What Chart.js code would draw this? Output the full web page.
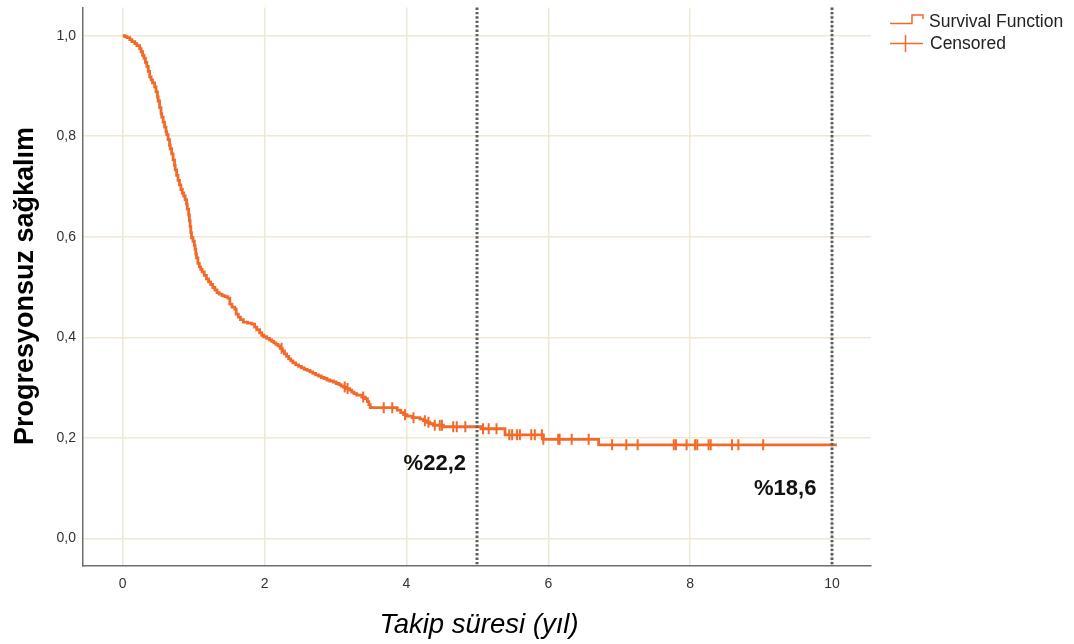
<!DOCTYPE html>
<html>
<head>
<meta charset="utf-8">
<script src="https://cdn.jsdelivr.net/npm/chart.js@4.4.1/dist/chart.umd.min.js"></script>
<style>
html,body{margin:0;padding:0;background:#fff;}
#wrap{width:1074px;height:644px;position:relative;}
</style>
</head>
<body>
<div id="wrap"><canvas id="c" width="1074" height="644"></canvas></div>
<script>
// ---- data ----
const survTimes = [0,0.03,0.06,0.10,0.13,0.17,0.20,0.24,0.26,0.28,0.30,0.32,0.34,0.36,0.38,0.40,0.42,0.45,0.47,0.49,0.50,0.52,0.54,0.55,0.57,0.59,0.61,0.62,0.64,0.66,0.67,0.69,0.71,0.73,0.74,0.76,0.78,0.80,0.82,0.84,0.86,0.88,0.90,0.91,0.93,0.94,0.95,0.96,0.97,0.99,1.01,1.02,1.03,1.04,1.06,1.08,1.10,1.12,1.15,1.18,1.21,1.24,1.27,1.30,1.33,1.36,1.40,1.44,1.48,1.51,1.54,1.58,1.60,1.63,1.66,1.70,1.76,1.82,1.86,1.89,1.93,1.96,1.99,2.03,2.07,2.10,2.13,2.16,2.19,2.22,2.25,2.28,2.31,2.34,2.37,2.40,2.44,2.48,2.52,2.56,2.60,2.64,2.68,2.72,2.76,2.80,2.84,2.88,2.92,2.97,3.01,3.05,3.08,3.11,3.15,3.20,3.23,3.26,3.30,3.37,3.42,3.45,3.47,3.49,3.87,3.92,3.96,4.01,4.08,4.19,4.24,4.28,4.33,4.38,4.52,5.05,5.39,5.93,6.71,10.07];
const survValues = [1.000,0.998,0.996,0.992,0.988,0.984,0.980,0.974,0.968,0.961,0.955,0.947,0.939,0.929,0.918,0.912,0.906,0.898,0.888,0.878,0.870,0.857,0.845,0.838,0.828,0.818,0.809,0.803,0.793,0.782,0.775,0.765,0.753,0.742,0.733,0.722,0.712,0.703,0.694,0.687,0.681,0.674,0.665,0.655,0.643,0.632,0.620,0.608,0.598,0.591,0.583,0.575,0.566,0.558,0.547,0.540,0.535,0.530,0.523,0.516,0.510,0.505,0.499,0.494,0.489,0.486,0.483,0.481,0.478,0.466,0.460,0.456,0.446,0.440,0.435,0.430,0.428,0.426,0.420,0.415,0.409,0.404,0.401,0.398,0.395,0.392,0.389,0.386,0.383,0.378,0.373,0.367,0.362,0.357,0.353,0.349,0.345,0.342,0.339,0.336,0.334,0.331,0.328,0.325,0.323,0.320,0.318,0.315,0.313,0.311,0.308,0.306,0.303,0.301,0.298,0.295,0.291,0.288,0.285,0.281,0.278,0.272,0.266,0.260,0.255,0.250,0.246,0.243,0.240,0.237,0.234,0.231,0.228,0.225,0.222,0.218,0.206,0.197,0.186,0.186];
const censoredTimes = [2.24,3.13,3.17,3.39,3.68,3.80,3.98,4.10,4.26,4.31,4.40,4.47,4.50,4.66,4.71,4.83,5.08,5.16,5.27,5.45,5.49,5.56,5.60,5.76,5.81,5.91,5.93,6.14,6.16,6.33,6.57,6.90,7.10,7.26,7.77,7.80,7.95,8.07,8.10,8.26,8.29,8.59,8.68,9.03];
const xTicks = [0,2,4,6,8,10];
const yTicks = [0,0.2,0.4,0.6,0.8,1.0];
const refLines = [5,10];
const refLabels = [{x:4.4,y:0.149,text:'%22,2'},{x:9.34,y:0.099,text:'%18,6'}];
const seriesNames = ['Survival Function','Censored'];
const xTitle = 'Takip süresi (yıl)';
const yTitle = 'Progresyonsuz sağkalım';

// step-function lookup of survival at time t
function survAt(t){
  let v = survValues[0];
  for (let i=0;i<survTimes.length;i++){ if (survTimes[i] <= t) v = survValues[i]; else break; }
  return v;
}

const ORANGE = '#f26a2a';
const FONT = "'Liberation Sans', Arial, sans-serif";

const overlay = {
  id:'overlay',
  afterDatasetsDraw(chart){
    const ctx = chart.ctx, xs = chart.scales.x, ys = chart.scales.y, a = chart.chartArea;
    ctx.save();
    ctx.strokeStyle = '#5c6262';
    ctx.lineWidth = 3;
    ctx.setLineDash([2.4,2]);
    refLines.forEach(v=>{
      const px = Math.round(xs.getPixelForValue(v));
      ctx.beginPath(); ctx.moveTo(px, a.top); ctx.lineTo(px, a.bottom); ctx.stroke();
    });
    ctx.setLineDash([]);
    ctx.fillStyle = '#111';
    ctx.font = 'bold 22px ' + FONT;
    ctx.textAlign = 'center'; ctx.textBaseline = 'middle';
    refLabels.forEach(l=>{
      ctx.fillText(l.text, xs.getPixelForValue(l.x), ys.getPixelForValue(l.y));
    });
    ctx.restore();
  },
  afterDraw(chart){
    const ctx = chart.ctx;
    ctx.save();
    // axis titles
    ctx.fillStyle = '#000';
    ctx.font = 'italic 27.5px ' + FONT;
    ctx.textAlign = 'center'; ctx.textBaseline = 'middle';
    ctx.fillText(xTitle, 479, 625);
    ctx.save();
    ctx.translate(26, 286);
    ctx.rotate(-Math.PI/2);
    ctx.font = 'bold 27px ' + FONT;
    ctx.fillText(yTitle, 0, 0);
    ctx.restore();
    // legend
    ctx.strokeStyle = ORANGE;
    ctx.lineWidth = 1.5;
    ctx.beginPath();
    ctx.moveTo(890, 23.5); ctx.lineTo(912, 23.5); ctx.lineTo(912, 15); ctx.lineTo(923, 15); ctx.lineTo(923, 19);
    ctx.stroke();
    ctx.beginPath();
    ctx.moveTo(890, 43.5); ctx.lineTo(923, 43.5);
    ctx.moveTo(905.5, 35); ctx.lineTo(905.5, 52);
    ctx.stroke();
    ctx.fillStyle = '#222';
    ctx.font = '17.5px ' + FONT;
    ctx.textAlign = 'left';
    ctx.fillText(seriesNames[0], 929, 22);
    ctx.fillText(seriesNames[1], 930, 44);
    ctx.restore();
  }
};

new Chart(document.getElementById('c'), {
  type:'scatter',
  data:{
    datasets:[
      {
        label: seriesNames[0],
        data: survTimes.map((t,i)=>({x:t,y:survValues[i]})),
        showLine:true, stepped:true,
        borderColor:ORANGE, borderWidth:2.8,
        pointRadius:0, pointHoverRadius:0, order:2
      },
      {
        label: seriesNames[1],
        data: censoredTimes.map(t=>({x:t,y:survAt(t)})),
        showLine:false,
        pointStyle:'line', rotation:90,
        pointRadius:5.5, borderColor:ORANGE, borderWidth:2,
        backgroundColor:ORANGE, order:1
      }
    ]
  },
  options:{
    responsive:false, animation:false,
    layout:{padding:{top:7,right:203,left:0,bottom:0}},
    plugins:{legend:{display:false}, tooltip:{enabled:false}},
    scales:{
      x:{
        type:'linear', min:-0.56, max:10.55,
        afterBuildTicks(s){ s.ticks = xTicks.map(v=>({value:v})); },
        afterFit(s){ s.height = 78; s.paddingLeft = 0; s.paddingRight = 0; },
        ticks:{padding:10, color:'#333', font:{family:FONT,size:14}, callback:v=>String(v)},
        grid:{color:'#efe8d4', lineWidth:1.5, drawTicks:false},
        border:{display:true, color:'#6e6e6e', width:1.5}
      },
      y:{
        type:'linear', min:-0.055, max:1.056,
        afterBuildTicks(s){ s.ticks = yTicks.map(v=>({value:v})); },
        afterFit(s){ s.width = 83; s.paddingTop = 0; s.paddingBottom = 0; },
        ticks:{padding:7, color:'#333', font:{family:FONT,size:14}, callback:v=>v.toFixed(1).replace('.',',')},
        grid:{color:'#efe8d4', lineWidth:1.5, drawTicks:false},
        border:{display:true, color:'#6e6e6e', width:1.5}
      }
    }
  },
  plugins:[overlay]
});
</script>
</body>
</html>
